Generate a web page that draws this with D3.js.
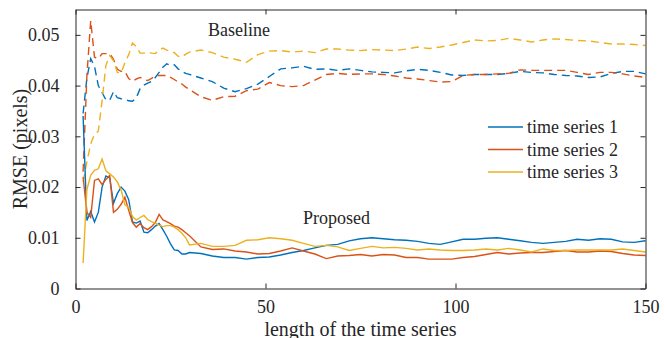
<!DOCTYPE html>
<html>
<head>
<meta charset="utf-8">
<script src="https://cdn.jsdelivr.net/npm/d3@7"></script>
<style>
  body { margin: 0; background: #fff; }
  text { font-family: "Liberation Serif", "Times New Roman", serif; fill: #262626; }
</style>
</head>
<body>
<div id="chart"></div>
<script>
// sample positions (length of the time series)
const xs = [2,3,4,5,6,7,8,9,10,11,12,13,14,15,16,17,18,19,20,21,22,23,24,25,26,27,28,29,30,
  33,36,39,42,45,48,51,54,57,60,63,66,69,72,75,78,81,84,87,90,93,96,99,102,105,108,111,114,117,120,
  123,126,129,132,135,138,141,144,147,150];

// RMSE values, in units of 1e-3 pixels
// baseline (dashed)
const base1 = [34.5,41.5,45.3,43.8,40,38.6,37.2,37.1,38.8,37.6,37.4,37.3,37,36.9,37.6,39.4,40.1,40.5,40.8,41.6,42.6,43.6,44.3,44,44.1,43.3,42.8,42.4,42.2,
  41.5,40.8,39.5,38.8,39.4,40.3,41.8,43.3,43.5,43.8,43.2,43.3,43,43.3,43,42.7,42.6,42.5,42.9,43.2,43,42.6,42.1,42,42.2,42.2,42.2,42.4,42.8,42.6,
  42.5,42.2,42,41.9,41.6,41.7,42.4,42.8,42.8,42.3];
const base2 = [23,42,52.8,45.6,45.3,46.3,46.3,46.3,45.2,43.2,42.8,42.8,41.4,40.8,41.3,41.6,41.2,41,41.4,42,42,42,42,41.6,41.2,40.7,40.3,39.7,39.2,
  37.8,37.1,37.8,37.9,39,39.3,40.6,40,39.8,40,41.1,42.2,42.4,42.2,42.3,42.3,42.2,41.9,41.5,41.3,41,40.7,40.8,42,42.2,42.2,42.3,42.4,43.1,43,
  43,43,43,42.6,42.2,42.6,42.6,42.3,41.9,41.6];
const base3 = [21,25,28.5,30.4,31,37,44,45.9,44.9,42.6,42.5,44.5,46.1,48.4,47.7,46.4,46.4,46.6,46.4,46.3,47,47.4,47,46.8,46.5,45.8,45.6,46.2,46.6,
  47,46.5,45.6,45.2,44.6,46.1,46.8,46.9,46.6,46.8,46.5,47.2,47.2,47,46.9,47.1,47,46.9,47.2,47.6,47.3,47.6,48,48.5,49,48.8,48.9,49.3,49,48.6,
  49,49.2,49.1,48.9,48.8,48.5,48.2,48.2,48.1,47.9];
// proposed (solid)
const prop1 = [34,13.4,15.2,13.1,15,20,22.2,21.8,16.8,18.7,20,19.2,17.5,13.1,12.9,13.3,11.1,11,11.6,12.3,12.8,11.6,10.3,8.8,7.6,7.5,6.8,6.8,7.1,
  6.9,6.4,6.1,6.1,5.8,6.1,6.2,6.6,7.1,7.5,8,8.5,8.7,9.4,9.8,10,9.8,9.6,9.5,9.3,8.9,8.7,9.2,9.7,9.7,9.9,10,9.7,9.4,9.1,
  8.9,9.1,9.3,9.7,9.5,9.8,9.7,9.2,9.1,9.4];
const prop2 = [22,15,14,21.3,21.6,20.5,21.5,22.3,15,15.6,16.6,18,15.4,13,12.1,12.8,12,11.6,12.2,13,14.6,13.5,13.2,12.8,12.3,12.1,11.6,11,10.4,
  8.2,7.7,7.8,7.4,7.2,6.8,6.9,7.4,8,7.4,6.8,5.9,6.4,6.5,6.7,6.4,6.7,6.6,6.1,6.1,5.8,5.8,5.8,6.1,6.3,6.7,7.1,6.8,7,7.1,
  7.1,7.3,7.5,7.2,7.2,7.4,7.3,6.9,6.6,6.5];
const prop3 = [5,19.5,22.3,23.3,23.6,25.5,23.2,22.6,22,21,19.4,16.5,16,14.2,13.5,14,14.4,13.6,13.2,12.9,12.5,12.2,12.4,12.4,12.1,11.6,10.9,10,8.6,
  8.9,8.3,8.3,8.5,9.5,9.6,10,9.8,9.5,8.9,8.3,8.5,8.2,7.5,7.9,8.3,8,8.1,7.9,7.6,7.8,7.6,7.5,7.5,7.6,7.8,7.6,7.9,7.6,7.2,
  7.8,7.5,7.5,7.6,7.6,7.6,7.6,7.8,7.5,7.2];

const seriesNames = ["time series 1", "time series 2", "time series 3"];
const colors = ["#0072BD", "#D95319", "#EDB120"];
const xTicks = [0, 50, 100, 150];
const yTicks = [0, 0.01, 0.02, 0.03, 0.04, 0.05];

const width = 665, height = 338;
const plotLeft = 75.5, plotRight = 645.5, plotTop = 9.5, plotBottom = 288.5;

const svg = d3.select("#chart").append("svg")
  .attr("width", width)
  .attr("height", height);

const x = d3.scaleLinear().domain([0, 150]).range([plotLeft, plotRight]);
const y = d3.scaleLinear().domain([0, 0.055]).range([plotBottom, plotTop]);

const line = d3.line()
  .x((d, i) => x(xs[i]))
  .y(d => y(d / 1000));

const plot = svg.append("g");

[base1, base2, base3].forEach((s, k) => {
  plot.append("path")
    .datum(s)
    .attr("d", line)
    .attr("fill", "none")
    .attr("stroke", colors[k])
    .attr("stroke-width", 1.4)
    .attr("stroke-dasharray", "8,5");
});
[prop1, prop2, prop3].forEach((s, k) => {
  plot.append("path")
    .datum(s)
    .attr("d", line)
    .attr("fill", "none")
    .attr("stroke", colors[k])
    .attr("stroke-width", 1.4);
});

// axes, matlab style box with inward ticks
const axColor = "#262626";
const fontSize = 18;
const labelSize = 20;

const bottomAxis = svg.append("g")
  .attr("transform", `translate(0,${plotBottom})`)
  .call(d3.axisBottom(x).tickValues(xTicks).tickSizeInner(-5).tickSizeOuter(0).tickPadding(12));
const topAxis = svg.append("g")
  .attr("transform", `translate(0,${plotTop})`)
  .call(d3.axisTop(x).tickValues(xTicks).tickSizeInner(-5).tickSizeOuter(0).tickFormat(""));
const leftAxis = svg.append("g")
  .attr("transform", `translate(${plotLeft},0)`)
  .call(d3.axisLeft(y).tickValues(yTicks).tickSizeInner(-5).tickSizeOuter(0).tickPadding(16)
    .tickFormat(d => d === 0 ? "0" : d3.format(".2f")(d)));
const rightAxis = svg.append("g")
  .attr("transform", `translate(${plotRight},0)`)
  .call(d3.axisRight(y).tickValues(yTicks).tickSizeInner(-5).tickSizeOuter(0).tickFormat(""));

[bottomAxis, topAxis, leftAxis, rightAxis].forEach(g => {
  g.select(".domain").attr("stroke", axColor).attr("stroke-width", 1);
  g.selectAll(".tick line").attr("stroke", axColor);
  g.selectAll("text")
    .attr("font-family", "Liberation Serif, serif")
    .attr("font-size", fontSize)
    .attr("fill", axColor);
});

// axis labels
svg.append("text")
  .attr("x", (plotLeft + plotRight) / 2)
  .attr("y", 336)
  .attr("text-anchor", "middle")
  .attr("font-size", labelSize)
  .text("length of the time series");

svg.append("text")
  .attr("transform", `translate(27,${(plotTop + plotBottom) / 2}) rotate(-90)`)
  .attr("text-anchor", "middle")
  .attr("font-size", labelSize)
  .text("RMSE (pixels)");

// annotations
svg.append("text")
  .attr("x", 208)
  .attr("y", 36)
  .attr("font-size", fontSize)
  .text("Baseline");

svg.append("text")
  .attr("x", 303)
  .attr("y", 224)
  .attr("font-size", fontSize)
  .text("Proposed");

// legend
const legend = svg.append("g").attr("transform", "translate(488,127)");
seriesNames.forEach((name, k) => {
  const row = legend.append("g").attr("transform", `translate(0,${k * 22.5})`);
  row.append("line")
    .attr("x1", 0).attr("x2", 35)
    .attr("y1", 0).attr("y2", 0)
    .attr("stroke", colors[k])
    .attr("stroke-width", 1.4);
  row.append("text")
    .attr("x", 39)
    .attr("dy", "0.35em")
    .attr("font-size", fontSize)
    .text(name);
});
</script>
</body>
</html>
